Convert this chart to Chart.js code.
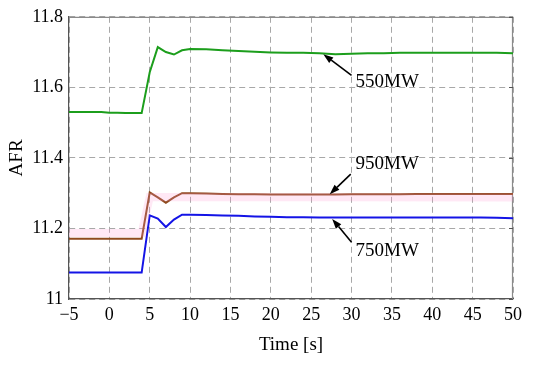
<!DOCTYPE html>
<html>
<head>
<meta charset="utf-8">
<script src="https://cdn.jsdelivr.net/npm/chart.js@4.4.1/dist/chart.umd.min.js"></script>
<style>
html,body{margin:0;padding:0;background:#fff;}
#wrap{width:550px;height:365px;position:relative;}
</style>
</head>
<body>
<div id="wrap"><canvas id="c" width="550" height="365"></canvas></div>
<script>
// ---- data ----
const time = [-5,-4,-3,-2,-1,0,1,2,3,4,5,6,7,8,9,10,12,14,16,18,20,22,24,26,28,30,32,34,36,38,40,42,44,46,48,50];
const afr550 = [11.530,11.530,11.530,11.530,11.530,11.528,11.528,11.527,11.527,11.527,11.643,11.714,11.700,11.693,11.705,11.709,11.708,11.705,11.703,11.701,11.699,11.698,11.698,11.697,11.694,11.695,11.697,11.697,11.698,11.698,11.698,11.698,11.698,11.698,11.698,11.697];
const afr950 = [11.171,11.171,11.171,11.171,11.171,11.171,11.171,11.171,11.171,11.171,11.302,11.288,11.273,11.288,11.300,11.300,11.299,11.298,11.297,11.297,11.296,11.296,11.296,11.296,11.296,11.297,11.297,11.297,11.297,11.298,11.298,11.298,11.298,11.298,11.298,11.298];
const afr750 = [11.075,11.075,11.075,11.075,11.075,11.075,11.075,11.075,11.075,11.075,11.237,11.228,11.204,11.225,11.239,11.239,11.238,11.237,11.236,11.234,11.233,11.232,11.232,11.231,11.231,11.231,11.231,11.231,11.231,11.231,11.231,11.231,11.231,11.231,11.230,11.229];
const bandTime = [-5,4,5,50];
const band950 = [11.187,11.187,11.289,11.288];
const xTicks = [-5,0,5,10,15,20,25,30,35,40,45,50];
const yTicks = [11,11.2,11.4,11.6,11.8];
const seriesNames = ['550MW','950MW','750MW'];
// annotation: label text, arrow tip, arrow tail, label anchor (data coords)
const annotations = [
  {text: seriesNames[0], tip: [26.5, 11.694], tail: [30.0, 11.634], at: [30.5, 11.614]},
  {text: seriesNames[1], tip: [27.3, 11.297], tail: [29.9, 11.354], at: [30.5, 11.382]},
  {text: seriesNames[2], tip: [27.6, 11.227], tail: [30.0, 11.161], at: [30.5, 11.137]}
];

const pts = (xs, ys) => xs.map((x, i) => ({x: x, y: ys[i]}));
const FONT = "'Liberation Serif','Times New Roman',serif";

const framePlugin = {
  id: 'frame',
  beforeDatasetsDraw(chart) {
    const {ctx, chartArea: a} = chart;
    ctx.save();
    ctx.strokeStyle = '#8a8a8a';
    ctx.lineWidth = 1.2;
    ctx.beginPath();
    ctx.moveTo(a.left, a.top + 0.5);
    ctx.lineTo(a.right - 0.5, a.top + 0.5);
    ctx.lineTo(a.right - 0.5, a.bottom);
    ctx.stroke();
    // inward ticks on right edge
    const ys = chart.scales.y;
    ctx.strokeStyle = '#555';
    ctx.beginPath();
    yTicks.forEach(v => {
      const py = Math.round(ys.getPixelForValue(v)) + 0.5;
      ctx.moveTo(a.right, py); ctx.lineTo(a.right - 4, py);
    });
    ctx.stroke();
    ctx.restore();
  }
};

const annotPlugin = {
  id: 'annot',
  afterDatasetsDraw(chart) {
    const {ctx} = chart;
    const xs = chart.scales.x, ys = chart.scales.y;
    ctx.save();
    annotations.forEach(an => {
      const tx = xs.getPixelForValue(an.tip[0]), ty = ys.getPixelForValue(an.tip[1]);
      const sx = xs.getPixelForValue(an.tail[0]), sy = ys.getPixelForValue(an.tail[1]);
      const ang = Math.atan2(ty - sy, tx - sx);
      const hl = 10, hw = 3.5;
      const bx = tx - hl * Math.cos(ang), by = ty - hl * Math.sin(ang);
      ctx.strokeStyle = '#000';
      ctx.lineWidth = 1.6;
      ctx.beginPath();
      ctx.moveTo(sx, sy); ctx.lineTo(bx, by);
      ctx.stroke();
      ctx.fillStyle = '#000';
      ctx.beginPath();
      ctx.moveTo(tx, ty);
      ctx.lineTo(bx + hw * Math.sin(ang), by - hw * Math.cos(ang));
      ctx.lineTo(bx - hw * Math.sin(ang), by + hw * Math.cos(ang));
      ctx.closePath();
      ctx.fill();
      ctx.font = "19px " + FONT;
      ctx.textAlign = 'left';
      ctx.textBaseline = 'middle';
      ctx.fillText(an.text, xs.getPixelForValue(an.at[0]), ys.getPixelForValue(an.at[1]));
    });
    ctx.restore();
  }
};

new Chart(document.getElementById('c'), {
  type: 'line',
  data: {
    datasets: [
      {label: 'band', data: pts(bandTime, band950), borderColor: 'rgba(255,150,210,0.22)', borderWidth: 8, pointRadius: 0, tension: 0},
      {label: seriesNames[0], data: pts(time, afr550), borderColor: '#1c9e1c', borderWidth: 2, pointRadius: 0, tension: 0},
      {label: seriesNames[1], data: pts(time, afr950), borderColor: '#8e4a1e', borderWidth: 2, pointRadius: 0, tension: 0},
      {label: seriesNames[2], data: pts(time, afr750), borderColor: '#1414e6', borderWidth: 2, pointRadius: 0, tension: 0}
    ]
  },
  options: {
    responsive: false,
    animation: false,
    events: [],
    layout: {padding: {left: 0, right: 37, top: 14, bottom: 0}},
    plugins: {legend: {display: false}, tooltip: {enabled: false}},
    scales: {
      x: {
        type: 'linear', min: -5, max: 50,
        afterFit(s) { s.height = 66; },
        afterBuildTicks(s) { s.ticks = xTicks.map(v => ({value: v})); },
        ticks: {
          color: '#000', padding: 5,
          font: {family: FONT, size: 18},
          callback: v => String(v).replace('-', '\u2212')
        },
        grid: {color: '#a8a8a8', lineWidth: 1, drawTicks: false, tickBorderDash: [6, 4]},
        border: {color: '#555', width: 1.2, dash: [6, 4], display: true},
        title: {display: true, text: 'Time [s]', color: '#000', font: {family: FONT, size: 19}, padding: {top: 0, bottom: 9}}
      },
      y: {
        type: 'linear', min: 11, max: 11.8,
        afterFit(s) { s.width = 69; },
        afterBuildTicks(s) { s.ticks = yTicks.map(v => ({value: v})); },
        ticks: {
          color: '#000', padding: 6,
          font: {family: FONT, size: 18},
          callback: v => (Math.abs(v - 11) < 1e-9 ? '11' : v.toFixed(1))
        },
        grid: {color: '#a8a8a8', lineWidth: 1, drawTicks: false},
        border: {color: '#555', width: 1.2, dash: [6, 4]},
        title: {display: true, text: 'AFR', color: '#000', font: {family: FONT, size: 19}, padding: {top: 6, bottom: 0}}
      }
    }
  },
  plugins: [framePlugin, annotPlugin]
});
</script>
</body>
</html>
